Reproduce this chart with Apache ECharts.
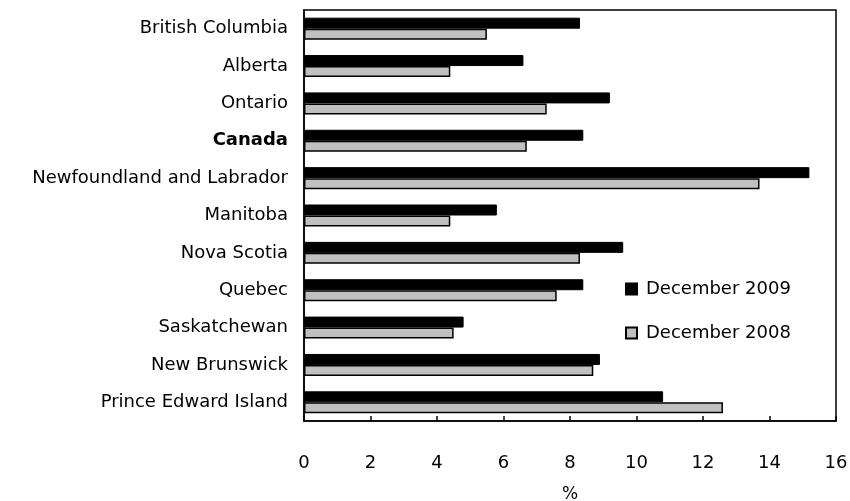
<!DOCTYPE html>
<html>
<head>
<meta charset="utf-8">
<script src="https://cdn.jsdelivr.net/npm/echarts@6/dist/echarts.min.js"></script>
<style>
  html, body { margin: 0; padding: 0; background: #fff; }
  #chart { width: 850px; height: 501px; }
</style>
</head>
<body>
<div id="chart"></div>
<script>
// Provinces, top to bottom
const provinces = [
  'British Columbia', 'Alberta', 'Ontario', 'Canada',
  'Newfoundland and Labrador', 'Manitoba', 'Nova Scotia', 'Quebec',
  'Saskatchewan', 'New Brunswick', 'Prince Edward Island'
];
// Rates, %
const dec2009 = [8.3, 6.6, 9.2, 8.4, 15.2, 5.8, 9.6, 8.4, 4.8, 8.9, 10.8];
const dec2008 = [5.5, 4.4, 7.3, 6.7, 13.7, 4.4, 8.3, 7.6, 4.5, 8.7, 12.6];
const seriesNames = ['December 2009', 'December 2008'];
const xTicks = [0, 2, 4, 6, 8, 10, 12, 14, 16];

const FONT = 'DejaVu Sans';
const chart = echarts.init(document.getElementById('chart'), null, { renderer: 'canvas' });

chart.setOption({
  animation: false,
  textStyle: { fontFamily: FONT, color: '#000' },
  grid: {
    left: 304, right: 14, top: 10, bottom: 80,
    outerBoundsMode: 'none',
    show: true, borderColor: '#000', borderWidth: 1.5
  },
  legend: {
    orient: 'vertical',
    left: 620, top: 275,
    itemWidth: 11, itemHeight: 11, itemGap: 26,
    icon: 'rect',
    textStyle: { fontSize: 18, color: '#000', fontFamily: FONT, padding: [0, 0, 0, 4] },
    data: seriesNames
  },
  xAxis: {
    type: 'value',
    min: xTicks[0], max: xTicks[xTicks.length - 1], interval: 2,
    name: '%', nameLocation: 'middle', nameGap: 65,
    nameTextStyle: { fontSize: 17, color: '#000' },
    axisLine: { show: true, lineStyle: { color: '#000', width: 1.5 } },
    axisTick: { show: true, inside: true, length: 5, lineStyle: { color: '#000', width: 1.5 } },
    axisLabel: { margin: 33, fontSize: 18, color: '#000' },
    splitLine: { show: false }
  },
  yAxis: {
    type: 'category',
    inverse: true,
    data: provinces,
    axisLine: { show: true, lineStyle: { color: '#000', width: 1.5 } },
    axisTick: { show: false },
    axisLabel: {
      margin: 16, fontSize: 18, color: '#000',
      formatter: v => v === 'Canada' ? '{b|' + v + '}' : v,
      rich: { b: { fontWeight: 'bold', fontSize: 18, color: '#000', fontFamily: FONT } }
    }
  },
  series: [
    {
      name: seriesNames[0], type: 'bar', data: dec2009,
      barWidth: 11, barGap: '0%',
      itemStyle: { color: '#000', borderColor: '#000', borderWidth: 1 }
    },
    {
      name: seriesNames[1], type: 'bar', data: dec2008,
      barWidth: 11, barGap: '0%',
      itemStyle: { color: '#c0c0c0', borderColor: '#000', borderWidth: 1.5 }
    }
  ]
});
</script>
</body>
</html>
